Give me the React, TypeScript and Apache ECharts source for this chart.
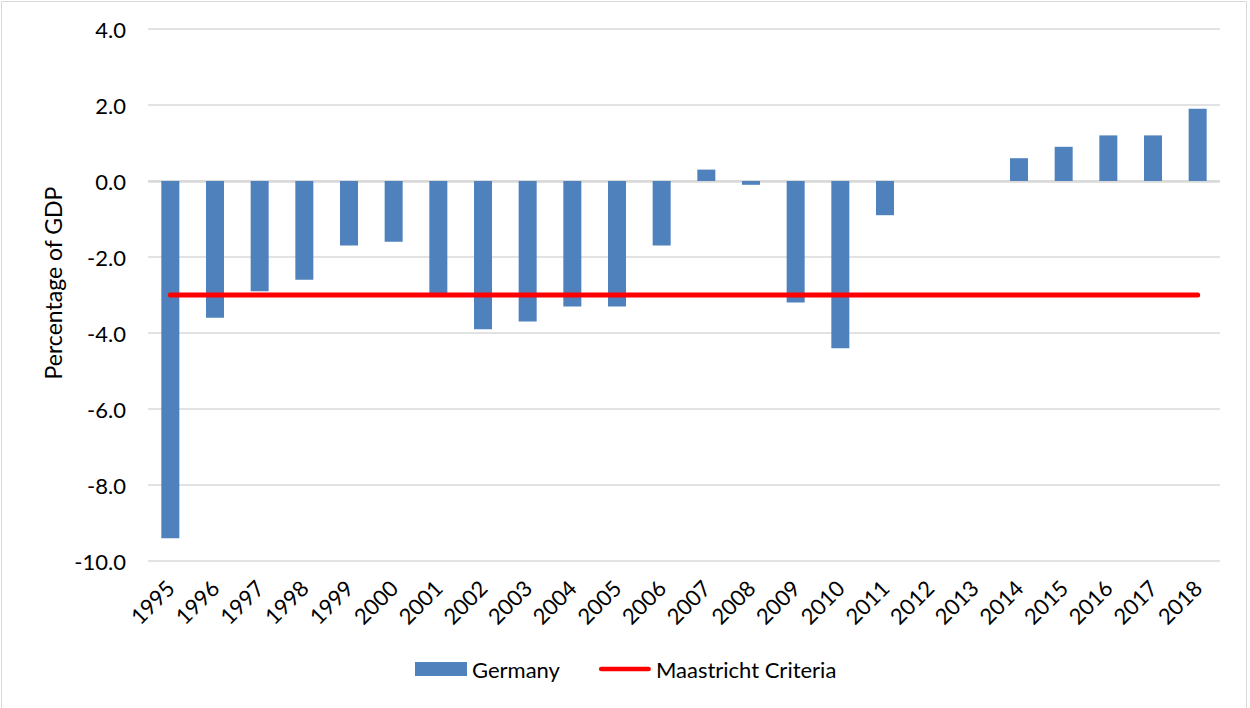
import React, { useEffect, useRef } from "react";
import * as echarts from "echarts";

const years = [
  "1995", "1996", "1997", "1998", "1999", "2000", "2001", "2002",
  "2003", "2004", "2005", "2006", "2007", "2008", "2009", "2010",
  "2011", "2012", "2013", "2014", "2015", "2016", "2017", "2018",
];

const germany = [
  -9.4, -3.6, -2.9, -2.6, -1.7, -1.6, -3.0, -3.9,
  -3.7, -3.3, -3.3, -1.7, 0.3, -0.1, -3.2, -4.4,
  -0.9, 0.0, 0.0, 0.6, 0.9, 1.2, 1.2, 1.9,
];

const maastricht = [
  -3, -3, -3, -3, -3, -3, -3, -3,
  -3, -3, -3, -3, -3, -3, -3, -3,
  -3, -3, -3, -3, -3, -3, -3, -3,
];

const yMin = -10;
const yMax = 4;
const yInterval = 2;

const FONT = "Lato, 'Noto Sans', sans-serif";

const lineIcon =
  "path://M0,0 L0.01,0 L0,0.01 Z M2.5,4.5 L53.5,4.5 A2.5,2.5 0 0 1 53.5,9.5 L2.5,9.5 A2.5,2.5 0 0 1 2.5,4.5 Z M55.99,14 L56,14 L56,13.99 Z";

export default function App() {
  const ref = useRef<HTMLDivElement>(null);

  useEffect(() => {
    if (!ref.current) return;
    const chart = echarts.init(ref.current, undefined, { renderer: "svg" });
    chart.setOption({
      animation: false,
      backgroundColor: "#ffffff",
      textStyle: { fontFamily: FONT },
      grid: { left: 148, right: 30, top: 29, bottom: 147, containLabel: false },
      xAxis: {
        type: "category",
        data: years,
        axisLine: { show: false, onZero: false },
        axisTick: { show: false },
        axisLabel: {
          rotate: 45,
          fontSize: 22,
          color: "#000000",
          fontFamily: FONT,
          margin: 23,
          interval: 0,
        },
      },
      yAxis: {
        type: "value",
        min: yMin,
        max: yMax,
        interval: yInterval,
        axisLine: { show: false },
        axisTick: { show: false },
        axisLabel: {
          fontSize: 22,
          color: "#000000",
          fontFamily: FONT,
          margin: 22,
          formatter: (v: number) => v.toFixed(1),
        },
        splitLine: { lineStyle: { color: "#d9d9d9", width: 1.5 } },
      },
      legend: {
        left: 415,
        top: 658,
        padding: 0,
        itemWidth: 52,
        itemHeight: 14,
        itemGap: 39,
        textStyle: { fontSize: 22, color: "#000000", fontFamily: FONT, padding: [0, 0, 0, 0] },
        data: [
          { name: "Germany", icon: "rect" },
          { name: "Maastricht Criteria", icon: lineIcon },
        ],
      },
      graphic: [
        {
          type: "rect",
          shape: { x: 1.5, y: 1.5, width: 1245, height: 720 },
          style: { fill: "none", stroke: "#d9d9d9", lineWidth: 1 },
          silent: true,
          z: 0,
        },
        {
          type: "text",
          x: 53,
          y: 283,
          rotation: Math.PI / 2,
          style: {
            text: "Percentage of GDP",
            fontSize: 23,
            fontFamily: FONT,
            fill: "#000000",
            textAlign: "center",
            textVerticalAlign: "middle",
          },
        },
      ],
      series: [
        {
          name: "Germany",
          type: "bar",
          data: germany,
          barWidth: 18,
          itemStyle: { color: "#4f81bd" },
          markLine: {
            silent: true,
            symbol: "none",
            label: { show: false },
            lineStyle: { color: "#d9d9d9", width: 2.5, type: "solid" },
            data: [{ yAxis: 0 }],
            z: 1,
          },
        },
        {
          name: "Maastricht Criteria",
          type: "line",
          data: maastricht,
          showSymbol: false,
          symbol: "none",
          lineStyle: { color: "#ff0000", width: 5, cap: "round" },
          itemStyle: { color: "#ff0000" },
          z: 5,
        },
      ],
    });
    return () => chart.dispose();
  }, []);

  return (
    <div
      ref={ref}
      style={{ position: "fixed", left: 0, top: 0, width: 1250, height: 708 }}
    />
  );
}
